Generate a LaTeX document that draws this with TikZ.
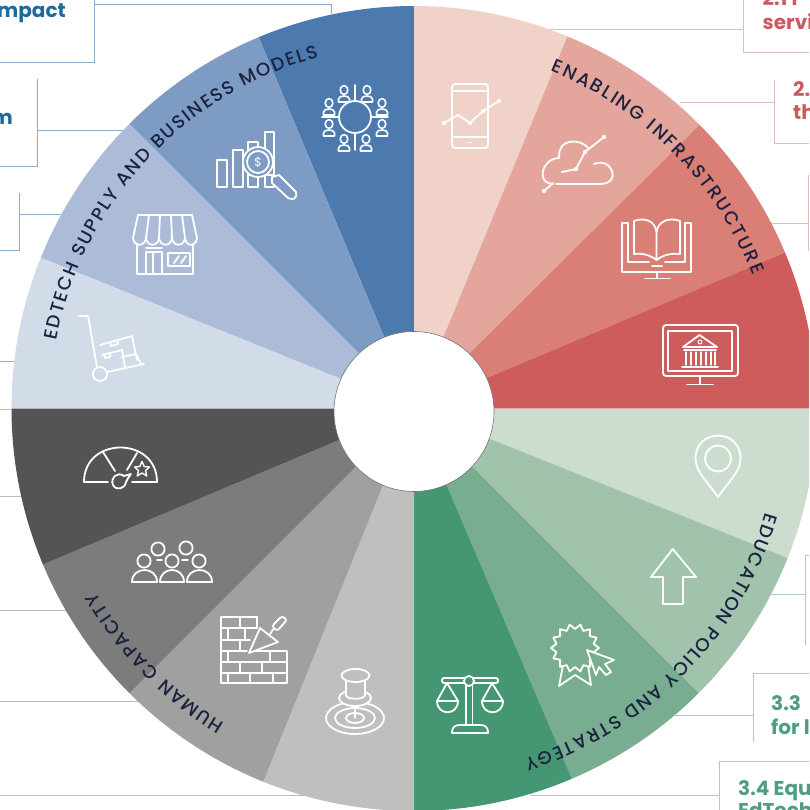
\documentclass[tikz,border=0pt]{standalone}
\usepackage{fontspec}
\usetikzlibrary{decorations.text}
\newfontfamily\labelface{Poppins}
\newfontfamily\arcface{Poppins Medium}
\definecolor{bA}{HTML}{4C79AE}\definecolor{bB}{HTML}{7E9BC3}\definecolor{bC}{HTML}{ACBCD8}\definecolor{bD}{HTML}{D2DBE8}
\definecolor{rA}{HTML}{F0D2C8}\definecolor{rB}{HTML}{E4A59C}\definecolor{rC}{HTML}{D97F75}\definecolor{rD}{HTML}{CE5C5C}
\definecolor{gA}{HTML}{CCDDD0}\definecolor{gB}{HTML}{A1C3AC}\definecolor{gC}{HTML}{78AD91}\definecolor{gD}{HTML}{459673}
\definecolor{kA}{HTML}{BFBFBE}\definecolor{kB}{HTML}{A0A09F}\definecolor{kC}{HTML}{7C7C7C}\definecolor{kD}{HTML}{545454}
\definecolor{arcink}{HTML}{1C2340}
\definecolor{blueT}{HTML}{1E6A9C}\definecolor{redT}{HTML}{C85A60}\definecolor{greenT}{HTML}{4E9E80}
\definecolor{blueL}{HTML}{8FAEC6}\definecolor{redL}{HTML}{DDBDBD}\definecolor{greenL}{HTML}{A8CCBD}\definecolor{greyL}{HTML}{BBBBBB}
\tikzset{
  ic/.style={draw=white,line width=1.8pt,line join=round,line cap=round},
  boxline/.style={line width=1pt},
  boxtext/.style={font=\labelface\bfseries\fontsize{20}{20}\selectfont,inner sep=0pt},
}
\newcommand{\sector}[3]{\fill[#3] (0,0) -- (#1:402.5) arc[start angle=#1,end angle=#2,radius=402.5] -- cycle;}
\newcommand{\arcword}[4]{\path[decorate,decoration={text along path,text align={fit to path},
  text={|\arcface\fontsize{18.5}{18.5}\selectfont\color{arcink}|#4}}]
  (#1:#3) arc[start angle=#1,end angle=#2,radius=#3];}
\newcommand{\personicon}[2]{\begin{scope}[shift={(#1,#2)}]
  \draw[ic,line width=1.6pt] (0,-4) ellipse[x radius=3.8,y radius=4.4];
  \draw[ic,line width=1.6pt] (-5.5,8) -- (-5.5,5) .. controls (-5.5,1) and (5.5,1) .. (5.5,5) -- (5.5,8) -- cycle;
\end{scope}}
\newcommand{\dotnode}[2]{\fill[white] (#1,#2) circle[radius=2.2];}
\newcommand{\dome}[2]{\draw[ic] (#1,582) .. controls (#1,566) and (#2,566) .. (#2,582) -- cycle;}
\begin{document}
\begin{tikzpicture}[x=1pt,y=-1pt]
\useasboundingbox (0,0) rectangle (809,810);
\clip (0,0) rectangle (809,810);
\fill[white] (0,0) rectangle (809,810);
% connector frames
\draw[boxline,blueL] (0,63) -- (94,63) -- (94,0);
\draw[boxline,blueL] (94,4.5) -- (331,4.5) -- (331,14);
\draw[boxline,blueL] (37.5,79) -- (37.5,167) -- (0,167);
\draw[boxline,blueL] (37.5,131) -- (126,131);
\draw[boxline,blueL] (19,193) -- (19,250) -- (0,250);
\draw[boxline,blueL] (19,214.5) -- (63,214.5);
\draw[boxline,blueL] (0,361) -- (16,361);
\draw[boxline,redL] (809,53) -- (743.5,53) -- (743.5,0);
\draw[boxline,redL] (743.5,29.5) -- (550,29.5);
\draw[boxline,redL] (809,144) -- (774.5,144) -- (774.5,80);
\draw[boxline,redL] (774.5,102.5) -- (680,102.5);
\draw[boxline,redL] (808.5,175) -- (808.5,251);
\draw[boxline,redL] (808.5,224) -- (770,224);
\draw[boxline,greenL] (809,555) -- (805.5,555) -- (805.5,645);
\draw[boxline,greenL] (805.5,594) -- (770,594);
\draw[boxline,greenL] (809,673) -- (753.5,673) -- (753.5,742);
\draw[boxline,greenL] (753.5,715) -- (675,715);
\draw[boxline,greenL] (809,761) -- (719.5,761) -- (719.5,810);
\draw[boxline,greenL] (719.5,795) -- (530,795);
\draw[boxline,greyL] (0,409) -- (14,409);
\draw[boxline,greyL] (0,496) -- (24,496);
\draw[boxline,greyL] (0,610.5) -- (70,610.5);
\draw[boxline,greyL] (0,701.5) -- (140,701.5);
\draw[boxline,greyL] (0,795) -- (305,795);
% box texts
\node[boxtext,text=blueT,anchor=base east] (impact) at (66,18) {mpact};
\node[boxtext,text=blueT,anchor=base east] (mtext) at (13,125) {m};
\node[boxtext,text=redT,anchor=base west] (t21) at (762.5,6) {2.1 I};
\node[boxtext,text=redT,anchor=base west] (servi) at (762.5,30) {servi};
\node[boxtext,text=redT,anchor=base west] (t22) at (793,97) {2.};
\node[boxtext,text=redT,anchor=base west] (thtext) at (793,120) {th};
\node[boxtext,text=greenT,anchor=base west] (t33) at (771,710) {3.3};
\node[boxtext,text=greenT,anchor=base west] (forl) at (771,734) {for l};
\node[boxtext,text=greenT,anchor=base west] (t34) at (738,795) {3.4 Equ};
\node[boxtext,text=greenT,anchor=base west] (edt) at (738,817) {EdTech};
% wheel
\begin{scope}[shift={(414,408.5)},y=1pt]
\sector{90}{112.7}{bA}\sector{112.7}{135}{bB}\sector{135}{158}{bC}\sector{158}{180}{bD}
\sector{90}{67.6}{rA}\sector{67.6}{44.8}{rB}\sector{44.8}{22.8}{rC}\sector{22.8}{0}{rD}
\sector{0}{-21.8}{gA}\sector{-21.8}{-45}{gB}\sector{-45}{-66.9}{gC}\sector{-66.9}{-90}{gD}
\sector{-90}{-112}{kA}\sector{-112}{-135}{kB}\sector{-135}{-157.2}{kC}\sector{-157.2}{-180}{kD}
\filldraw[fill=white,draw=black!55,line width=.6pt] (0,-3) circle[radius=80];
\arcword{169.2}{105.2}{364}{EDTECH SUPPLY AND BUSINESS MODELS}
\arcword{68}{21.5}{364}{ENABLING INFRASTRUCTURE}
\arcword{-16.5}{-72.5}{367}{EDUCATION POLICY AND STRATEGY}
\arcword{-121}{-150}{367}{HUMAN CAPACITY}
\end{scope}
% network icon
\draw[ic] (355,117) circle[radius=16];
\draw[ic] (355,85) -- (355,101) (355,133) -- (355,150) (322,117) -- (339,117) (371,117) -- (388,117);
\personicon{344}{94}\personicon{367}{94}\personicon{329}{107}\personicon{382}{107}
\personicon{329}{128}\personicon{382}{128}\personicon{344}{143}\personicon{366}{143}
% chart and lens
\draw[ic] (217,160) rectangle (227,187);
\draw[ic] (233,150) rectangle (243,187);
\draw[ic] (248,142) rectangle (258,187);
\draw[ic] (265,132) rectangle (274,187);
\draw[ic] (248,175) -- (274,175);
\filldraw[ic,fill=bB] (258,162) circle[radius=15];
\draw[ic] (258,162) circle[radius=11];
\node[font=\labelface\fontsize{12}{12}\selectfont,text=white,inner sep=0pt] (dollar) at (258,162) {\$};
\draw[ic,fill=bB] (272,177) -- (279,175) -- (296,192) .. controls (298,198) and (293,201) .. (288,198) -- (272,183) -- cycle;
% store
\draw[ic] (138,215) -- (192,215);
\draw[ic] (138,215) -- (133,238) (149,215) -- (146,238) (160,215) -- (159,238) (171,215) -- (172,238) (182,215) -- (185,238) (192,215) -- (197,238);
\draw[ic] (133,238) .. controls (134,247) and (145,247) .. (146,238) .. controls (147,247) and (158,247) .. (159,238) .. controls (160,247) and (171,247) .. (172,238) .. controls (173,247) and (184,247) .. (185,238) .. controls (186,247) and (196,247) .. (197,238);
\draw[ic] (137,244) -- (137,274) -- (193,274) -- (193,244);
\draw[ic] (146,252) -- (162,252) (146,252) -- (146,274) (153,252) -- (153,274) (162,252) -- (162,274) (146,248) -- (162,248);
\draw[ic] (168,253) rectangle (190,266);
\draw[ic] (174,263) -- (179,256) (181,263) -- (186,256);
% cart
\draw[ic] (79,316) -- (88,316) -- (97,367);
\draw[ic] (100,374) circle[radius=7];
\draw[ic] (107,372) -- (144,364);
\draw[ic] (100,345) -- (132,336) -- (137,360);
\draw[ic] (102,355) -- (122,350) -- (125,367);
\draw[ic] (122,357) -- (136,354) -- (141,364);
\draw[ic] (110,342) -- (111,346) -- (118,344) -- (117,340) (104,354) -- (105,358) -- (110,357) -- (110,353);
% phone
\draw[ic,rounded corners=3pt] (452,84) rectangle (488,148);
\draw[ic] (452,91) -- (488,91) (452,137) -- (488,137) (468,142.5) -- (472,142.5);
\draw[ic] (444,123) -- (458,115) -- (470,123) -- (483,111) -- (499,101);
\dotnode{444}{123}\dotnode{470}{123}\dotnode{483}{111}\dotnode{499}{101}
% cloud
\draw[ic] (556,184) -- (600,184) .. controls (612,184) and (615,176) .. (611,169) .. controls (608,163) and (601,161) .. (594,164) (588,148) .. controls (584,142) and (570,138) .. (562,146) .. controls (560,149) and (559,151) .. (559,158) .. controls (548,158) and (541,169) .. (543,177) .. controls (544,181) and (546,183) .. (553,184);
\draw[ic] (544,191) -- (553,183) (562,172) -- (576,169) -- (585,152) -- (604,137);
\dotnode{544}{191}\dotnode{576}{169}\dotnode{585}{152}\dotnode{604}{137}
% book monitor
\draw[ic] (628,223) -- (622,223) -- (622,272) -- (691,272) -- (691,223) -- (685,223);
\draw[ic] (657,272) -- (657,278) (645,278.5) -- (670,278.5) (652,266) -- (662,266);
\draw[ic] (628,223) -- (628,262) -- (649,262) (685,223) -- (685,262) -- (665,262);
\draw[ic] (634,221) .. controls (645,217) and (655,221) .. (656.5,232) -- (656.5,260) .. controls (650,255) and (642,253) .. (634,254) -- cycle;
\draw[ic] (680,221) .. controls (669,217) and (658,221) .. (656.5,232) (656.5,260) .. controls (663,255) and (671,253) .. (680,254) -- (680,221);
% bank monitor
\draw[ic,rounded corners=3pt] (663,325) rectangle (738,376);
\draw[ic] (668,331) rectangle (732,371);
\draw[ic] (700,376) -- (700,384) (687,384.5) -- (713,384.5);
\draw[ic] (683,347) -- (699.5,335) -- (717,347) -- cycle;
\draw[ic,line width=1pt] (700,342) circle[radius=2];
\draw[ic] (684,350) -- (716,350) (682,367) -- (718,367);
\foreach \colx in {686,691,696,701,706,711,715}{\draw[ic,line width=1.1pt] (\colx,352) -- (\colx,365);}
% pin
\draw[ic] (718,458.5) circle[radius=13];
\draw[ic] (718,497) .. controls (708,482) and (695.5,472) .. (695.5,458.5) .. controls (695.5,428) and (740.5,428) .. (740.5,458.5) .. controls (740.5,472) and (728,482) .. (718,497) -- cycle;
% arrow
\draw[ic] (672.7,549) -- (696,577) -- (683,577) -- (683,604) -- (663,604) -- (663,577) -- (651,577) -- cycle;
% rosette
\draw[ic] (563,665) -- (559,686) -- (575,675) -- (591,685) -- (588,665);
\filldraw[ic,fill=gC] plot[samples=29,domain=0:360,variable=\ang] ({575+(21.5+2.5*cos(14*\ang))*cos(\ang)},{648+(21.5+2.5*cos(14*\ang))*sin(\ang)}) -- cycle;
\filldraw[ic,fill=gC] (587,650) -- (614,660) -- (605,664) -- (611,672) -- (606,675) -- (599,667) -- (596,675) -- cycle;
% scales
\draw[ic] (466,686) -- (466,725) (472.5,686) -- (472.5,725);
\draw[ic,rounded corners=2pt] (442,678) rectangle (498,683);
\filldraw[ic,fill=gD] (469,681) circle[radius=5];
\draw[ic] (452,733) .. controls (452,726) and (456,725) .. (460,725) -- (480,725) .. controls (484,725) and (488,726) .. (488,733) -- cycle;
\draw[ic] (437,701) -- (447,683) -- (458,701);
\draw[ic] (482,701) -- (492,683) -- (503,701);
\draw[ic] (437,701) -- (458,701) .. controls (458,716) and (437,716) .. (437,701);
\draw[ic] (482,701) -- (503,701) .. controls (503,716) and (482,716) .. (482,701);
% push pin on target
\draw[ic] (355,718) ellipse[x radius=29,y radius=16];
\draw[ic] (355,718) ellipse[x radius=20,y radius=10];
\draw[ic] (355,718) ellipse[x radius=9,y radius=5];
\draw[ic] (355,705) -- (355,718);
\filldraw[ic,fill=kA] (355,698) ellipse[x radius=16,y radius=8];
\filldraw[ic,fill=kA] (346,680) -- (346,695) .. controls (346,700) and (365,700) .. (365,695) -- (365,680) -- cycle;
\filldraw[ic,fill=kA] (355.5,675.5) ellipse[x radius=14,y radius=6.5];
% bricks
\draw[ic] (221,617) -- (257,617) (221,617) -- (221,683) -- (287,683) -- (287,651) -- (250,651);
\draw[ic] (221,628) -- (257,628) (221,640) -- (250,640) (221,651) -- (247,651) (221,662) -- (287,662) (221,673) -- (287,673);
\draw[ic] (240,617) -- (240,628) (257,617) -- (257,628) (228,628) -- (228,640) (245,628) -- (245,640) (240,640) -- (240,651) (228,651) -- (228,662) (270,651) -- (270,662) (240,662) -- (240,673) (262,662) -- (262,673) (228,673) -- (228,683) (250,673) -- (250,683) (273,673) -- (273,683);
\filldraw[ic,fill=kB] (249,653) -- (260,628) -- (278,642) -- cycle;
\draw[ic] (270,634) -- (274,628);
\filldraw[ic,fill=kB,rounded corners=2.5pt] (272,626) -- (282,616) -- (287,620) -- (277,631) -- cycle;
% people
\foreach \hx/\hy in {158/549,186/548,144/561,172/561,199/561}{\filldraw[ic,fill=kC] (\hx,\hy) circle[radius=6.6];}
\draw[ic] (157,560) -- (162,560) (182,560) -- (188,560);
\dome{132}{157}\dome{160}{184}\dome{187}{212}
% gauge
\draw[ic] (108,482) -- (84,482) .. controls (84,436) and (157,436) .. (157,482) -- (132,482);
\draw[ic] (103,452) -- (115,471) (137,453) -- (127,470);
\draw[ic] (131,474) .. controls (128,475) and (126,475) .. (124,476) .. controls (117,471) and (110,478) .. (113,485) .. controls (116,491) and (125,489) .. (126,482) .. controls (127,479) and (129,477) .. (131,474) -- cycle;
\draw[ic,line width=1.4pt] (142,461.5) -- (144.2,466.5) -- (149.5,467) -- (145.5,470.5) -- (146.8,476) -- (142,473) -- (137.2,476) -- (138.5,470.5) -- (134.5,467) -- (139.8,466.5) -- cycle;
\end{tikzpicture}
\end{document}
